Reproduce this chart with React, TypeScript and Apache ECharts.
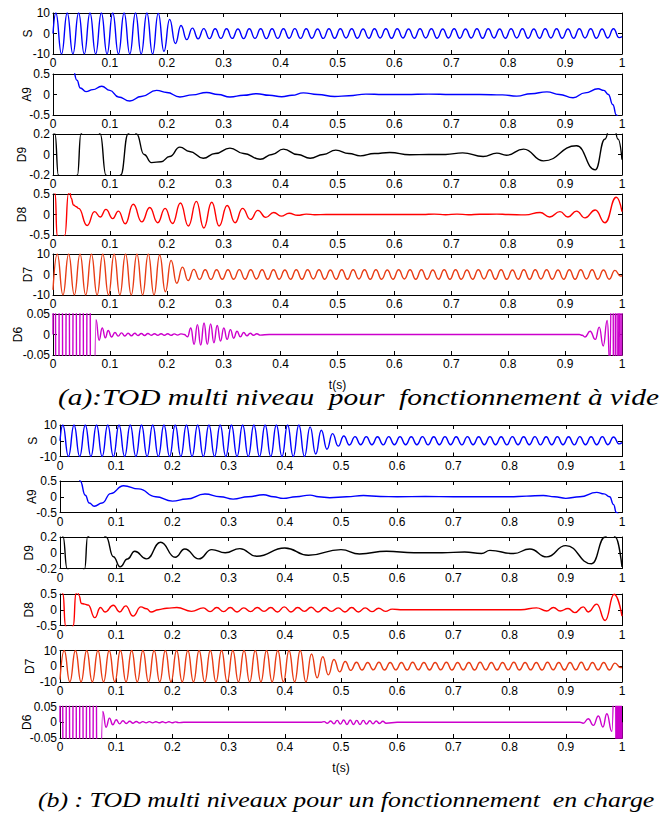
import { useEffect, useRef } from "react";
import * as echarts from "echarts";

// ---------- tick labels ----------
const X_TICK_LABELS = ["0", "0.1", "0.2", "0.3", "0.4", "0.5", "0.6", "0.7", "0.8", "0.9", "1"];
const NAMES = ["S", "A9", "D9", "D8", "D7", "D6"];
const Y_MAX = [10, 0.5, 0.2, 0.5, 10, 0.05];
const Y_TICK_LABELS = [
  ["-10", "0", "10"],
  ["-0.5", "0", "0.5"],
  ["-0.2", "0", "0.2"],
  ["-0.5", "0", "0.5"],
  ["-10", "0", "10"],
  ["-0.05", "0", "0.05"],
];
const CAPTION_A = "(a):TOD multi niveau  pour  fonctionnement à vide";
const CAPTION_B = "(b) : TOD multi niveaux pour un fonctionnement  en charge";
const X_NAME = "t(s)";

// ---------- data: successive extrema ----------
// 50 Hz signals: one extremum every 10 ms
const S_A_T0 = 0.005;
const S_A_EXT = [
  10, -10, 10, -10, 10, -10, 10, -10, 10, -10,
  10, -10, 10, -10, 10, -10, 10, -10, 9.8, -8.7,
  6.9, -4.9, 3.9, -3.0, 2.6, -2.6, 2.4, -2.5, 2.3, -2.4,
  2.3, -2.4, 2.2, -2.5, 2.3, -2.4, 2.3, -2.5, 2.3, -2.4,
  2.3, -2.3, 2.4, -2.4, 2.3, -2.3, 2.2, -2.4, 2.3, -2.3,
  2.3, -2.2, 2.3, -2.3, 2.2, -2.3, 2.3, -2.2, 2.3, -2.3,
  2.3, -2.2, 2.2, -2.3, 2.3, -2.2, 2.3, -2.3, 2.2, -2.2,
  2.3, -2.3, 2.2, -2.2, 2.3, -2.3, 2.3, -2.2, 2.2, -2.3,
  2.3, -2.2, 2.3, -2.3, 2.2, -2.3, 2.3, -2.2, 2.3, -2.3,
  2.2, -2.3, 2.3, -2.2, 2.3, -2.3, 2.2, -2.2, 2.3, -2.0,
];
const D7_A_T0 = 0.0075;
const D7_A_EXT = [
  10, -10, 10, -10, 10, -10, 10, -10, 10, -10,
  10, -10, 10, -10, 10, -10, 10, -10, 9.5, -8.4,
  6.9, -4.3, 3.6, -3.0, 2.5, -2.4, 2.3, -2.4, 2.3, -2.3,
  2.3, -2.3, 2.4, -2.3, 2.3, -2.2, 2.3, -2.3, 2.3, -2.3,
  2.2, -2.3, 2.3, -2.3, 2.3, -2.2, 2.3, -2.3, 2.2, -2.3,
  2.3, -2.3, 2.3, -2.2, 2.3, -2.3, 2.3, -2.3, 2.2, -2.3,
  2.3, -2.2, 2.3, -2.3, 2.3, -2.3, 2.2, -2.3, 2.3, -2.3,
  2.3, -2.3, 2.2, -2.3, 2.3, -2.2, 2.3, -2.3, 2.3, -2.3,
  2.2, -2.3, 2.3, -2.3, 2.3, -2.2, 2.3, -2.3, 2.2, -2.3,
  2.3, -2.3, 2.3, -2.2, 2.3, -2.3, 2.2, -2.3, 2.0, -0.8,
];
const S_B_T0 = 0.005;
const S_B_EXT = [
  10, -10, 10, -10, 10, -10, 10, -10, 10, -10,
  10, -10, 10, -10, 10, -10, 10, -10, 10, -10,
  10, -10, 10, -10, 10, -10, 10, -10, 10, -10,
  10, -10, 10, -10, 10, -10, 10, -10, 10, -10,
  10, -10, 10, -10, 8.8, -8.4, 6.7, -5.4, 4.5, -3.4,
  3.0, -2.7, 2.6, -2.5, 2.6, -2.5, 2.5, -2.6, 2.6, -2.5,
  2.6, -2.5, 2.5, -2.5, 2.6, -2.6, 2.5, -2.5, 2.6, -2.5,
  2.5, -2.6, 2.6, -2.5, 2.5, -2.5, 2.6, -2.5, 2.5, -2.6,
  2.6, -2.5, 2.5, -2.5, 2.6, -2.6, 2.5, -2.5, 2.6, -2.5,
  2.5, -2.6, 2.6, -2.5, 2.5, -2.5, 2.6, -2.5, 2.4, -2.0,
];
const D7_B_T0 = 0.0075;
const D7_B_EXT = [
  10, -10, 10, -10, 10, -10, 10, -10, 10, -10,
  10, -10, 10, -10, 10, -10, 10, -10, 10, -10,
  10, -10, 10, -10, 10, -10, 10, -10, 10, -10,
  10, -10, 10, -10, 10, -10, 10, -10, 10, -10,
  10, -10, 10, -10, 7.8, -7.4, 6.0, -5.5, 4.3, -3.6,
  3.0, -2.6, 2.5, -2.4, 2.4, -2.3, 2.5, -2.4, 2.4, -2.3,
  2.4, -2.4, 2.5, -2.3, 2.4, -2.4, 2.4, -2.3, 2.5, -2.4,
  2.4, -2.3, 2.4, -2.4, 2.5, -2.3, 2.4, -2.4, 2.4, -2.3,
  2.5, -2.4, 2.4, -2.3, 2.4, -2.4, 2.5, -2.3, 2.4, -2.4,
  2.4, -2.3, 2.5, -2.4, 2.4, -2.3, 2.4, -2.4, 2.0, -0.8,
];
const HALF_PERIOD_50HZ = 0.01;

const A9_A: [number, number][] = [
  [0, 2.0], [0.02, 1.2], [0.035, 0.62], [0.042, 0.35], [0.048, 0.16], [0.058, 0.07], [0.07, 0.12],
  [0.0855, 0.2], [0.1, 0.1], [0.115, -0.06], [0.135, -0.16], [0.155, -0.05], [0.182, 0.1], [0.2, 0.05],
  [0.223, -0.06], [0.245, -0.01], [0.27, 0.05], [0.29, 0.0], [0.311, -0.06], [0.335, -0.02], [0.358, 0.02],
  [0.38, -0.02], [0.402, -0.055], [0.42, -0.02], [0.44, 0.04], [0.465, 0.0], [0.495, -0.05], [0.52, -0.03],
  [0.55, 0.01], [0.58, 0.0], [0.62, 0.0], [0.66, 0.01], [0.7, 0.0], [0.75, 0.0], [0.79, -0.01], [0.815, -0.04],
  [0.84, 0.02], [0.868, 0.065], [0.89, 0.0], [0.914, -0.08], [0.935, 0.04], [0.958, 0.14], [0.968, 0.1],
  [0.976, 0.0], [0.984, -0.25], [0.99, -0.5], [1.0, -0.9],
];
const D9_A: [number, number][] = [
  [0, 0.45], [0.0035, 0.2], [0.0094, -0.2], [0.025, -1.0], [0.043, -0.2], [0.049, 0.2], [0.065, 0.9],
  [0.083, 0.2], [0.093, -0.2], [0.105, -0.7], [0.119, -0.2], [0.132, 0.2], [0.139, 0.3], [0.147, 0.2],
  [0.16, 0.0], [0.173, -0.079], [0.19, -0.07], [0.205, -0.02], [0.223, 0.072], [0.24, 0.03], [0.264, -0.036],
  [0.285, 0.01], [0.311, 0.062], [0.335, 0.01], [0.364, -0.046], [0.385, 0.0], [0.405, 0.052], [0.43, 0.0],
  [0.452, -0.036], [0.475, 0.0], [0.497, 0.043], [0.52, 0.01], [0.54, -0.013], [0.565, 0.01], [0.592, 0.02],
  [0.627, -0.003], [0.66, 0.0], [0.69, 0.0], [0.72, 0.016], [0.756, -0.02], [0.78, 0.013], [0.797, -0.007],
  [0.827, 0.052], [0.862, -0.062], [0.92, 0.085], [0.953, -0.15], [0.97, 0.15], [0.983, 0.4], [0.993, 0.15],
  [1.0, -0.05],
];
const D8_A: [number, number][] = [
  [0, 0.9], [0.004, 0.5], [0.007, -0.5], [0.014, -1.0], [0.021, -0.5], [0.027, 0.5], [0.029, 0.6],
  [0.032, 0.4], [0.036, 0.23], [0.041, 0.19], [0.045, 0.15], [0.06, -0.27], [0.073, 0.07], [0.083, -0.06],
  [0.093, 0.125], [0.105, -0.1], [0.115, 0.083], [0.127, -0.225], [0.141, 0.25], [0.156, -0.18],
  [0.17, 0.17], [0.184, -0.2], [0.197, 0.15], [0.21, -0.22], [0.224, 0.28], [0.238, -0.28], [0.252, 0.32],
  [0.265, -0.33], [0.279, 0.3], [0.292, -0.28], [0.306, 0.22], [0.32, -0.2], [0.333, 0.15], [0.347, -0.12],
  [0.36, 0.1], [0.374, -0.07], [0.388, 0.05], [0.401, -0.04], [0.415, 0.03], [0.43, -0.02], [0.445, 0.01],
  [0.46, -0.005], [0.48, 0.0], [0.65, 0.0], [0.67, 0.01], [0.69, -0.005], [0.71, 0.01], [0.73, -0.005],
  [0.75, 0.005], [0.78, 0.01], [0.8, 0.0], [0.83, -0.01], [0.856, 0.05], [0.873, -0.06], [0.891, 0.07],
  [0.905, -0.06], [0.92, 0.083], [0.935, -0.083], [0.953, 0.11], [0.97, -0.2], [0.99, 0.42], [1.0, 0.07],
];
const D6_A_HEAD_T0 = 0.0015;
const D6_A_HEAD_STEP = 0.0061;
const D6_A_HEAD = [0.8, -0.8, 0.8, -0.8, 0.8, -0.8, 0.8, -0.8, 0.8, -0.8, 0.8, -0.8];
const D6_A_DECAY: [number, number][] = [
  [0.0755, 0.036], [0.081, -0.014], [0.0865, 0.016], [0.092, -0.008], [0.097, 0.0096], [0.103, -0.006],
];
const D6_STEP = 0.0058;
const D6_A_RIPPLE_T0 = 0.1088;
const D6_A_RIPPLE = [
  0.005, -0.004, 0.004, -0.0035, 0.003, -0.003, 0.003, -0.0025, 0.0025, -0.0025,
  0.0025, -0.002, 0.002, -0.002, 0.002, -0.002, 0.002, -0.002, 0.0015, -0.0015, 0.0015,
];
const D6_A_BURST_T0 = 0.2306;
const D6_A_BURST = [
  0.0, -0.0056, 0.016, -0.024, 0.024, -0.026, 0.028, -0.024, 0.026, -0.02, 0.022, -0.016,
  0.016, -0.012, 0.012, -0.009, 0.008, -0.0056, 0.0048, -0.003, 0.003, -0.002, 0.002, -0.0015,
];
const D6_A_TAIL: [number, number][] = [
  [0.38, 0], [0.925, 0], [0.93, -0.002], [0.935, -0.006], [0.944, 0.008], [0.953, -0.012], [0.96, 0.018],
  [0.967, -0.028], [0.974, 0.034], [0.979, -0.08], [0.983, 0.5], [0.9865, -0.6], [0.99, 0.6],
  [0.993, -0.6], [0.9955, 0.6], [0.998, -0.6], [1.0, 0.2],
];

const A9_B: [number, number][] = [
  [0, 2.0], [0.02, 1.1], [0.033, 0.6], [0.036, 0.5], [0.045, 0.05], [0.052, -0.2], [0.061, -0.3],
  [0.075, -0.2], [0.09, 0.1], [0.113, 0.35], [0.14, 0.25], [0.17, 0.0], [0.2, -0.14], [0.225, -0.07],
  [0.258, 0.085], [0.285, 0.0], [0.308, -0.075], [0.335, 0.0], [0.362, 0.064], [0.38, 0.0], [0.397, -0.053],
  [0.42, 0.0], [0.445, 0.053], [0.46, 0.0], [0.48, -0.03], [0.51, 0.0], [0.54, 0.04], [0.57, 0.01],
  [0.6, 0.0], [0.65, 0.01], [0.7, 0.0], [0.75, 0.0], [0.8, 0.0], [0.83, 0.02], [0.86, 0.04], [0.88, 0.0],
  [0.9, -0.05], [0.925, 0.0], [0.955, 0.14], [0.968, 0.09], [0.978, 0.0], [0.985, -0.25], [0.99, -0.5],
  [1.0, -0.9],
];
const D9_B: [number, number][] = [
  [0, 0.6], [0.0055, 0.2], [0.0125, -0.2], [0.028, -0.8], [0.044, -0.2], [0.049, 0.2], [0.065, 0.45],
  [0.082, 0.2], [0.095, -0.05], [0.107, -0.179], [0.12, -0.08], [0.133, 0.019], [0.154, -0.078],
  [0.179, 0.133], [0.205, -0.057], [0.222, 0.048], [0.247, -0.078], [0.27, 0.04], [0.294, 0.0],
  [0.32, 0.053], [0.35, -0.044], [0.4, 0.061], [0.442, -0.032], [0.5, 0.04], [0.533, -0.015],
  [0.581, 0.02], [0.63, 0.0], [0.68, 0.0], [0.72, 0.01], [0.75, -0.01], [0.765, 0.03], [0.807, -0.01],
  [0.836, 0.048], [0.866, -0.053], [0.9, 0.09], [0.946, -0.14], [0.97, 0.2], [0.98, 0.35], [0.988, 0.2],
  [1.0, -0.18],
];
const D8_B: [number, number][] = [
  [0, 0.9], [0.0055, 0.5], [0.0095, -0.5], [0.016, -1.0], [0.024, -0.5], [0.028, 0.5], [0.031, 0.6],
  [0.034, 0.45], [0.038, 0.2], [0.044, 0.18], [0.05, 0.15], [0.062, -0.25], [0.072, 0.07], [0.08, -0.07],
  [0.095, 0.145], [0.106, -0.07], [0.117, 0.124], [0.13, -0.2], [0.144, 0.09], [0.154, 0.03],
  [0.162, -0.07], [0.175, 0.0], [0.19, 0.05], [0.208, 0.07], [0.234, -0.05], [0.255, 0.06], [0.267, -0.06],
  [0.279, 0.07], [0.291, -0.06], [0.303, 0.07], [0.315, -0.07], [0.327, 0.06], [0.339, -0.06],
  [0.351, 0.07], [0.363, -0.05], [0.375, 0.07], [0.387, -0.07], [0.399, 0.09], [0.411, -0.07],
  [0.423, 0.07], [0.435, -0.05], [0.447, 0.08], [0.459, -0.07], [0.471, 0.07], [0.483, -0.05],
  [0.495, 0.06], [0.507, -0.07], [0.519, 0.07], [0.531, -0.07], [0.543, 0.06], [0.555, -0.06],
  [0.567, 0.05], [0.579, -0.05], [0.591, 0.02], [0.61, 0.0], [0.82, 0.0], [0.848, 0.06], [0.866, -0.04],
  [0.878, 0.07], [0.89, -0.04], [0.904, 0.04], [0.916, -0.09], [0.931, 0.09], [0.94, -0.07], [0.955, 0.18],
  [0.97, -0.34], [0.986, 0.49], [1.0, -0.2],
];
const D6_B_HEAD_T0 = 0.002;
const D6_B_HEAD_STEP = 0.006;
const D6_B_HEAD = [0.8, -0.8, 0.8, -0.8, 0.8, -0.8, 0.8, -0.8, 0.8, -0.8, 0.8, -0.8];
const D6_B_DECAY: [number, number][] = [
  [0.076, 0.034], [0.082, -0.016], [0.088, 0.013], [0.094, -0.008], [0.1, 0.008], [0.106, -0.005],
  [0.112, 0.005], [0.118, -0.004], [0.124, 0.003],
];
const D6_B_RIPPLE_T0 = 0.13;
const D6_B_RIPPLE = [
  -0.003, 0.0025, -0.0025, 0.002, -0.002, 0.002, -0.002, 0.0018, -0.0018, 0.0015, -0.0015, 0.0015,
  -0.0015, 0.0012, -0.0012,
];
const D6_B_BURST_T0 = 0.47;
const D6_B_BURST = [
  0.002, -0.003, 0.004, -0.005, 0.006, -0.006, 0.007, -0.007, 0.007, -0.007,
  0.006, -0.007, 0.006, -0.006, 0.005, -0.005, 0.004, -0.004, 0.003, -0.003,
];
const D6_B_TAIL: [number, number][] = [
  [0.6, 0], [0.925, 0], [0.931, -0.003], [0.94, 0.011], [0.949, -0.01], [0.958, 0.02], [0.966, -0.015],
  [0.973, 0.027], [0.982, -0.029], [0.988, 0.3], [0.9905, -0.6], [0.992, 0.6], [0.9935, -0.6],
  [0.995, 0.6], [0.9965, -0.6], [0.998, 0.6], [0.9995, -0.6], [1.0, 0],
];

// ---------- helpers ----------
function ext(t0: number, dt: number, vals: number[]): [number, number][] {
  return vals.map((v, i) => [t0 + dt * i, v] as [number, number]);
}

const S_A = [[0, 0] as [number, number], ...ext(S_A_T0, HALF_PERIOD_50HZ, S_A_EXT), [1, -1.5] as [number, number]];
const D7_A = [[0, -7.5] as [number, number], ...ext(D7_A_T0, HALF_PERIOD_50HZ, D7_A_EXT), [1, -0.6] as [number, number]];
const S_B = [[0, 0] as [number, number], ...ext(S_B_T0, HALF_PERIOD_50HZ, S_B_EXT), [1, -1.2] as [number, number]];
const D7_B = [[0, -8.5] as [number, number], ...ext(D7_B_T0, HALF_PERIOD_50HZ, D7_B_EXT), [1, -0.8] as [number, number]];
const D6_A = [
  [0, 0] as [number, number],
  ...ext(D6_A_HEAD_T0, D6_A_HEAD_STEP, D6_A_HEAD),
  ...D6_A_DECAY,
  ...ext(D6_A_RIPPLE_T0, D6_STEP, D6_A_RIPPLE),
  ...ext(D6_A_BURST_T0, D6_STEP, D6_A_BURST),
  ...D6_A_TAIL,
];
const D6_B = [
  [0, 0] as [number, number],
  ...ext(D6_B_HEAD_T0, D6_B_HEAD_STEP, D6_B_HEAD),
  ...D6_B_DECAY,
  ...ext(D6_B_RIPPLE_T0, D6_STEP, D6_B_RIPPLE),
  [0.22, 0] as [number, number],
  [0.465, 0] as [number, number],
  ...ext(D6_B_BURST_T0, D6_STEP, D6_B_BURST),
  ...D6_B_TAIL,
];

const SERIES_A = [S_A, A9_A, D9_A, D8_A, D7_A, D6_A];
const SERIES_B = [S_B, A9_B, D9_B, D8_B, D7_B, D6_B];

// ---------- layout & style ----------
const COLORS = ["#0000ff", "#0000ff", "#000000", "#ff0000", "#e83c14", "#cc00cc"];
const LAYOUT = [
  { left: 53, width: 569, tops: [13, 74, 134, 194, 254, 314], height: 41, nameGaps: [19, 20, 25, 25, 19, 29], xNameGap: 24 },
  { left: 60, width: 562, tops: [425, 481, 537, 594, 650.5, 706.5], height: 31.5, nameGaps: [21, 22, 25, 25, 24, 27], xNameGap: 24 },
];
const FONT = "Liberation Sans";
const CAPTION_FONT = "Liberation Serif";

function buildOption() {
  const grid: any[] = [];
  const xAxis: any[] = [];
  const yAxis: any[] = [];
  const series: any[] = [];
  const panels = [SERIES_A, SERIES_B];
  let g = 0;
  panels.forEach((sers, p) => {
    const L = LAYOUT[p];
    sers.forEach((data, k) => {
      grid.push({ left: L.left, top: L.tops[k], width: L.width, height: L.height, containLabel: false });
      const m = Y_MAX[k];
      const labels = Y_TICK_LABELS[k];
      const tickCommon = { inside: true, length: 4, lineStyle: { color: "#000", width: 1 } };
      const lineCommon = { show: true, onZero: false, lineStyle: { color: "#000", width: 1 } };
      xAxis.push({
        gridIndex: g, type: "value", min: 0, max: 1, interval: 0.1, position: "bottom",
        axisLine: lineCommon, axisTick: tickCommon, splitLine: { show: false },
        axisLabel: {
          color: "#000", fontSize: 12, fontFamily: FONT, margin: 3, hideOverlap: false,
          formatter: (v: number) => X_TICK_LABELS[Math.round(v * 10)] ?? "",
        },
        name: k === 5 ? X_NAME : "", nameLocation: "middle", nameGap: L.xNameGap, nameMoveOverlap: false,
        nameTextStyle: { color: "#000", fontSize: 12, fontFamily: FONT },
      });
      xAxis.push({
        gridIndex: g, type: "value", min: 0, max: 1, interval: 0.1, position: "top",
        axisLine: lineCommon, axisTick: tickCommon, splitLine: { show: false }, axisLabel: { show: false },
      });
      yAxis.push({
        gridIndex: g, type: "value", min: -m, max: m, interval: m, position: "left",
        axisLine: lineCommon, axisTick: tickCommon, splitLine: { show: false },
        axisLabel: {
          color: "#000", fontSize: 12, fontFamily: FONT, margin: 3, hideOverlap: false,
          formatter: (v: number) => labels[Math.round(v / m) + 1] ?? "",
        },
        name: NAMES[k], nameLocation: "middle", nameRotate: 90, nameGap: L.nameGaps[k], nameMoveOverlap: false,
        nameTextStyle: { color: "#000", fontSize: 12, fontFamily: FONT },
      });
      yAxis.push({
        gridIndex: g, type: "value", min: -m, max: m, interval: m, position: "right",
        axisLine: lineCommon, axisTick: tickCommon, splitLine: { show: false }, axisLabel: { show: false },
      });
      series.push({
        type: "line", xAxisIndex: 2 * g, yAxisIndex: 2 * g, data,
        showSymbol: false, symbol: "none", smooth: 0.5, smoothMonotone: "x", clip: true,
        lineStyle: { color: COLORS[k], width: 1.4 }, emphasis: { disabled: true },
      });
      g++;
    });
  });
  return {
    animation: false,
    backgroundColor: "#fff",
    grid, xAxis, yAxis, series,
    graphic: [
      {
        type: "text", x: 58, y: 386, scaleX: 1.28,
        style: { text: CAPTION_A, fontFamily: CAPTION_FONT, fontStyle: "italic", fontSize: 23, fill: "#000" },
      },
      {
        type: "text", x: 38, y: 789, scaleX: 1.23,
        style: { text: CAPTION_B, fontFamily: CAPTION_FONT, fontStyle: "italic", fontSize: 21, fill: "#000" },
      },
    ],
  };
}

export default function App() {
  const ref = useRef<HTMLDivElement>(null);
  useEffect(() => {
    const chart = echarts.init(ref.current!, null, { renderer: "svg" });
    chart.setOption(buildOption() as any);
    return () => chart.dispose();
  }, []);
  return (
    <div
      ref={ref}
      style={{ position: "absolute", left: 0, top: 0, width: 661, height: 819, background: "#fff" }}
    />
  );
}
